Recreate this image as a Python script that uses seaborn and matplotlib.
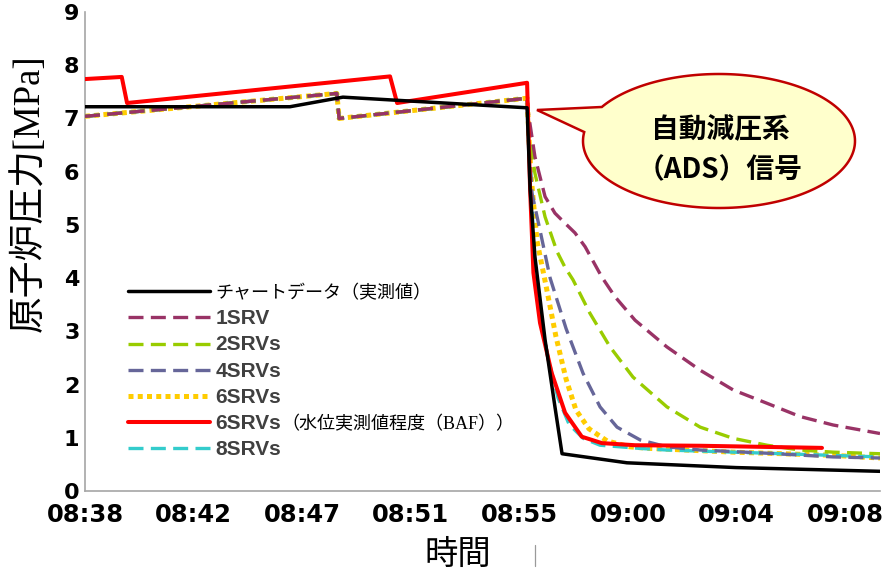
import numpy as np
import pandas as pd
import matplotlib
matplotlib.use("Agg")
import matplotlib.pyplot as plt
import seaborn as sns
from matplotlib.patches import Polygon
from matplotlib.transforms import IdentityTransform

sns.set_theme(style="white")
plt.rcParams['font.family'] = ['DejaVu Sans', 'Noto Sans CJK JP']

# ---------------- data (minutes after 08:38, pressure MPa) ----------------
tick_labels = ["08:38", "08:42", "08:47", "08:51", "08:55", "09:00", "09:04", "09:08"]
tick_minutes = [0, 4.29, 8.57, 12.86, 17.14, 21.43, 25.71, 30.0]

chart_t = [0, 8.09, 10.18, 17.45, 17.57, 17.76, 18.16, 18.55, 18.83, 21.39, 25.70, 31.38]
chart_p = [7.22, 7.22, 7.40, 7.20, 5.66, 4.40, 2.84, 1.58, 0.70, 0.53, 0.44, 0.37]

pre_t = [0, 9.94, 10.03, 17.45]
pre_p = [7.04, 7.47, 7.00, 7.38]

srv1_t = pre_t + [17.50, 17.76, 18.16, 18.55, 18.95, 19.34, 19.74, 20.40, 20.92, 21.71,
                  22.96, 24.28, 25.58, 26.91, 28.22, 29.53, 31.38]
srv1_p = pre_p + [7.10, 6.28, 5.53, 5.22, 5.03, 4.85, 4.59, 4.02, 3.65, 3.21,
                  2.71, 2.27, 1.90, 1.65, 1.40, 1.24, 1.08]

srv2_t = pre_t + [17.57, 17.76, 18.16, 18.63, 18.95, 19.26, 19.93, 20.72, 21.63, 22.97,
                  24.28, 25.58, 26.92, 28.22, 29.53, 31.38]
srv2_p = pre_p + [6.60, 5.97, 5.15, 4.50, 4.20, 3.97, 3.34, 2.71, 2.14, 1.58,
                  1.20, 0.99, 0.86, 0.77, 0.73, 0.70]

srv4_t = pre_t + [17.53, 17.64, 17.96, 18.36, 18.99, 19.66, 20.33, 21.00, 21.91, 22.97,
                  24.28, 26.92, 29.53, 31.38]
srv4_p = pre_p + [6.50, 5.60, 4.90, 4.00, 3.05, 2.21, 1.58, 1.20, 0.96, 0.83,
                  0.77, 0.71, 0.64, 0.62]

srv6_t = pre_t + [17.53, 17.61, 17.84, 18.20, 18.59, 18.99, 19.38, 19.89, 20.61, 21.51,
                  22.30, 25.58, 29.53, 31.38]
srv6_p = pre_p + [6.60, 5.90, 4.70, 3.85, 2.90, 2.10, 1.52, 1.17, 0.94, 0.83,
                  0.80, 0.73, 0.67, 0.62]

srv8_t = pre_t + [17.53, 17.63, 17.72, 17.96, 18.28, 18.67, 19.11, 19.66, 20.33, 21.91,
                  22.97, 26.92, 31.38]
srv8_p = pre_p + [6.50, 5.60, 4.40, 3.30, 2.50, 1.75, 1.25, 0.99, 0.86, 0.80,
                  0.77, 0.71, 0.64]

baf_t = [0, 1.45, 1.66, 12.04, 12.32, 17.45, 17.57, 17.70, 17.96, 18.42, 18.95, 19.61,
         20.40, 21.71, 24.28, 29.09]
baf_p = [7.74, 7.78, 7.29, 7.79, 7.29, 7.67, 5.66, 4.10, 3.16, 2.22, 1.47, 1.02,
         0.90, 0.86, 0.85, 0.81]

labels = ["チャートデータ（実測値）", "1SRV", "2SRVs", "4SRVs", "6SRVs", "6SRVs", "8SRVs"]
baf_suffix = "（水位実測値程度（BAF））"

# ---------------- figure ----------------
fig = plt.figure(figsize=(8.88, 5.76), dpi=100)
ax = fig.add_axes([85/888, 1-491/576, (880-85)/888, (491-12)/576])

GRAY = "#A6A6A6"
sns.lineplot(x=srv6_t, y=srv6_p, ax=ax, color="#FFCC00", linewidth=3.6,
             linestyle=(0, (1, 0.85)), sort=False, estimator=None, zorder=3)
sns.lineplot(x=srv8_t, y=srv8_p, ax=ax, color="#33CCCC", linewidth=2.4,
             linestyle=(0, (4.5, 2.2)), sort=False, estimator=None, zorder=3)
sns.lineplot(x=srv4_t, y=srv4_p, ax=ax, color="#666699", linewidth=2.4,
             linestyle=(0, (4.5, 2.2)), sort=False, estimator=None, zorder=3)
sns.lineplot(x=srv2_t, y=srv2_p, ax=ax, color="#99CC00", linewidth=2.4,
             linestyle=(0, (4.5, 2.2)), sort=False, estimator=None, zorder=3)
sns.lineplot(x=srv1_t, y=srv1_p, ax=ax, color="#993366", linewidth=2.4,
             linestyle=(0, (4.5, 2.2)), sort=False, estimator=None, zorder=3)
sns.lineplot(x=baf_t, y=baf_p, ax=ax, color="#FF0000", linewidth=2.9,
             sort=False, estimator=None, zorder=4)
sns.lineplot(x=chart_t, y=chart_p, ax=ax, color="#000000", linewidth=2.5,
             sort=False, estimator=None, zorder=5)
lines = ax.get_lines()
h_srv6, h_srv8, h_srv4, h_srv2, h_srv1, h_baf, h_chart = lines[:7]
handles = [h_chart, h_srv1, h_srv2, h_srv4, h_srv6, h_baf, h_srv8]

ax.set_xlim(0, 31.38)
ax.set_ylim(0, 9)
ax.set_xticks(tick_minutes)
ax.set_xticklabels(tick_labels)
ax.set_yticks(range(0, 10))
for s in ["top", "right"]:
    ax.spines[s].set_visible(False)
for s in ["left", "bottom"]:
    ax.spines[s].set_color(GRAY)
    ax.spines[s].set_linewidth(1.2)
ax.tick_params(axis="x", direction="in", length=5, width=1, color=GRAY, pad=9,
               labelsize=17.5, labelcolor="black")
ax.tick_params(axis="y", direction="in", length=5, width=1, color=GRAY, pad=4,
               labelsize=16, labelcolor="black")
for t in ax.get_xticklabels() + ax.get_yticklabels():
    t.set_fontweight("bold")
    t.set_family("DejaVu Sans")
ax.set_xlabel("")
ax.set_ylabel("")

# axis titles
fig.text(29/888, 1-193.5/576, "原子炉圧力[MPa]", rotation=90, ha="center", va="center",
         fontsize=26.5, family=["Liberation Serif", "Noto Sans CJK JP"], color="black")
fig.text(458/888, 1-554/576, "時間", ha="center", va="center", fontsize=24,
         family=["Noto Sans CJK JP"], color="black")

# legend
leg = ax.legend(handles, labels, loc="upper left", bbox_to_anchor=(128/888, 1-284/576),
                bbox_transform=fig.transFigure, frameon=False, borderpad=0, borderaxespad=0,
                handlelength=4.2, handletextpad=0.3, labelspacing=0.37, fontsize=14)
texts = leg.get_texts()
texts[0].set_family(["Noto Sans CJK JP"])
texts[0].set_fontsize(13)
texts[0].set_color("black")
for t in texts[1:]:
    t.set_family(["Liberation Sans"])
    t.set_fontweight("bold")
    t.set_fontsize(15)
    t.set_color("#404040")

# overlay for callout and decorations (pixel coordinates)
ov = fig.add_axes([0, 0, 1, 1], zorder=10)
ov.set_xlim(0, 888)
ov.set_ylim(576, 0)
ov.axis("off")
ov.patch.set_alpha(0)

cx, cy, a, b = 719, 141, 136, 67
th = np.deg2rad(np.linspace(210.5, 547.7, 200))
pts = np.column_stack([cx + a*np.cos(th), cy + b*np.sin(th)])
pts = np.vstack([pts, [[537, 110]]])
ov.add_patch(Polygon(pts, closed=True, facecolor="#FFFFCC", edgecolor="#C00000",
                     linewidth=1.8, joinstyle="miter"))
ov.text(720, 130, "自動減圧系", ha="center", va="center", fontsize=20, fontweight="bold",
        family=["Noto Sans CJK JP"], color="black")
ov.text(720, 170, "（ADS）信号", ha="center", va="center", fontsize=20, fontweight="bold",
        family=["Noto Sans CJK JP"], color="black")
ov.plot([535, 535], [545, 566], color="#9A9A9A", linewidth=0.9)

# suffix after the 6SRVs (BAF) legend label
fig.canvas.draw()
r = fig.canvas.get_renderer()
t5 = texts[5]
bb = t5.get_window_extent(r)
base = t5.get_transform().transform(t5.get_position())
fig.text(bb.x1, base[1], baf_suffix, transform=IdentityTransform(), ha="left",
         va="baseline", fontsize=13, family=["Liberation Serif", "Noto Sans CJK JP"],
         color="black")

fig.savefig("out.png", dpi=100)
